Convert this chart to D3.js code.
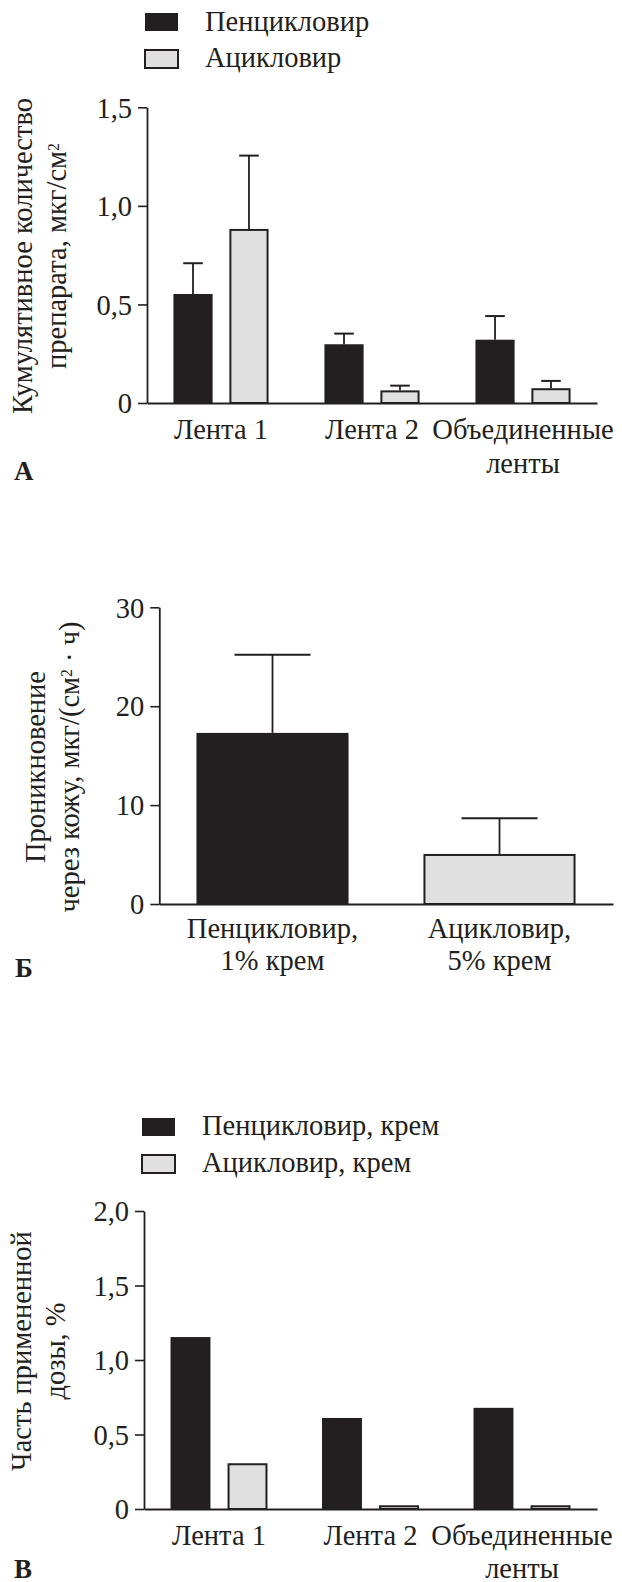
<!DOCTYPE html>
<html><head><meta charset="utf-8">
<script src="https://cdn.jsdelivr.net/npm/d3@7/dist/d3.min.js"></script>
<style>
html,body{margin:0;padding:0;background:#fff;}
svg{display:block;}
text{font-family:"Liberation Serif";}
</style></head>
<body>
<script>
// ---------- DATA ----------
const seriesA = ["Пенцикловир", "Ацикловир"];
const categoriesA = ["Лента 1", "Лента 2", "Объединенные\nленты"];
const pencA = [0.553, 0.298, 0.321];
const pencAErr = [0.156, 0.054, 0.120];
const acyA = [0.883, 0.064, 0.075];
const acyAErr = [0.372, 0.024, 0.037];
const ticksA = [0, 0.5, 1.0, 1.5];
const tickLabelsA = ["0", "0,5", "1,0", "1,5"];

const categoriesB = ["Пенцикловир,\n1% крем", "Ацикловир,\n5% крем"];
const valuesB = [17.3, 5.06];
const errB = [7.9, 3.6];
const ticksB = [0, 10, 20, 30];
const tickLabelsB = ["0", "10", "20", "30"];

const seriesC = ["Пенцикловир, крем", "Ацикловир, крем"];
const categoriesC = ["Лента 1", "Лента 2", "Объединенные\nленты"];
const pencC = [1.154, 0.611, 0.679];
const acyC = [0.307, 0.025, 0.025];
const ticksC = [0, 0.5, 1.0, 1.5, 2.0];
const tickLabelsC = ["0", "0,5", "1,0", "1,5", "2,0"];

// ---------- STYLE ----------
const INK = "#231f20";
const GRAY = "#dfe0df";
const FONT = "Liberation Serif";
const FS = 28.5;

const svg = d3.select("body").append("svg")
  .attr("width", 622).attr("height", 1582)
  .style("font-family", FONT);

function txt(sel) { return sel.style("font-family", FONT).attr("fill", INK); }

function legend(g, names, x, ys, textX, baselines) {
  names.forEach((n, i) => {
    g.append("rect").attr("x", x).attr("y", ys[i]).attr("width", 33).attr("height", 18)
      .attr("fill", i === 0 ? INK : GRAY)
      .attr("stroke", INK).attr("stroke-width", i === 0 ? 0 : 2);
    txt(g.append("text")).attr("x", textX).attr("y", baselines[i])
      .attr("font-size", FS).text(n);
  });
}

function yAxis(g, y, x, ticks, labels) {
  const ax = g.append("g").attr("transform", `translate(${x},0)`)
    .call(d3.axisLeft(y).tickValues(ticks).tickFormat((d, i) => labels[i])
      .tickSizeInner(9).tickSizeOuter(0).tickPadding(6));
  ax.attr("font-family", null);
  ax.select(".domain").attr("stroke", INK).attr("stroke-width", 1.8);
  ax.selectAll(".tick line").attr("stroke", INK).attr("stroke-width", 1.6);
  txt(ax.selectAll(".tick text")).attr("font-size", FS).attr("dy", "0.34em");
  return ax;
}

function xAxis(g, x, y0, pad, lh) {
  const ax = g.append("g").attr("transform", `translate(0,${y0})`)
    .call(d3.axisBottom(x).tickSizeInner(0).tickSizeOuter(0).tickPadding(pad));
  ax.attr("font-family", null);
  ax.select(".domain").attr("stroke", INK).attr("stroke-width", 1.8);
  ax.selectAll(".tick text").each(function (d) {
    const t = d3.select(this);
    txt(t.text(null)).attr("font-size", FS);
    d.split("\n").forEach((line, i) => {
      t.append("tspan").attr("x", 0).attr("dy", i === 0 ? "0.71em" : lh + "em").text(line);
    });
  });
  return ax;
}

function yTitle(g, lines, xs, yc) {
  lines.forEach((parts, i) => {
    const t = txt(g.append("text")).attr("transform", `translate(${xs[i]},${yc}) rotate(-90)`)
      .attr("text-anchor", "middle").attr("font-size", FS);
    parts.forEach(p => {
      if (p.sup) {
        t.append("tspan").attr("font-size", FS * 0.55).attr("baseline-shift", "45%").text(p.t);
      } else {
        t.append("tspan").text(p.t);
      }
    });
  });
}

function panelLabel(g, s, x, y) {
  txt(g.append("text")).attr("x", x).attr("y", y).attr("font-size", 27)
    .attr("font-weight", "bold").text(s);
}

function groupedBars(g, cats, series, values, errs, x0, x1, y, capFrac) {
  const data = cats.map((c, i) => ({ c, vals: series.map((s, j) => ({ s, j, v: values[j][i], e: errs ? errs[j][i] : null })) }));
  const grp = g.selectAll(".grp").data(data).join("g")
    .attr("transform", d => `translate(${x0(d.c)},0)`);
  grp.selectAll("rect").data(d => d.vals).join("rect")
    .attr("x", d => x1(d.s) + (d.j === 0 ? 0 : 1))
    .attr("width", d => x1.bandwidth() - (d.j === 0 ? 0 : 2))
    .attr("y", d => y(d.v) + (d.j === 0 ? 0 : 1))
    .attr("height", d => y(0) - y(d.v) - (d.j === 0 ? 0 : 1))
    .attr("fill", d => d.j === 0 ? INK : GRAY)
    .attr("stroke", INK).attr("stroke-width", d => d.j === 0 ? 0 : 2);
  if (errs) {
    grp.selectAll(".err").data(d => d.vals).join("g").attr("class", "err").each(function (d) {
      const e = d3.select(this);
      const cx = x1(d.s) + x1.bandwidth() / 2;
      const hw = x1.bandwidth() * capFrac / 2;
      e.append("line").attr("x1", cx).attr("x2", cx).attr("y1", y(d.v)).attr("y2", y(d.v + d.e))
        .attr("stroke", INK).attr("stroke-width", 1.8);
      e.append("line").attr("x1", cx - hw).attr("x2", cx + hw).attr("y1", y(d.v + d.e)).attr("y2", y(d.v + d.e))
        .attr("stroke", INK).attr("stroke-width", 2);
    });
  }
}

// ---------- PANEL A ----------
{
  const g = svg.append("g");
  legend(g, seriesA, 145, [13, 50], 205, [31, 67]);
  const y = d3.scaleLinear().domain([0, 1.5]).range([403, 107.3]);
  const x0 = d3.scaleBand().domain(categoriesA).range([147, 597]).paddingInner(0.37).paddingOuter(0.175);
  const x1 = d3.scaleBand().domain(seriesA).range([0, x0.bandwidth()]).paddingInner(0.3);
  groupedBars(g, categoriesA, seriesA, [pencA, acyA], [pencAErr, acyAErr], x0, x1, y, 0.5);
  yAxis(g, y, 147, ticksA, tickLabelsA);
  xAxis(g, x0, 403, 16, 1.19);
  yTitle(g, [[{ t: "Кумулятивное количество" }], [{ t: "препарата, мкг/см" }, { t: "2", sup: true }]], [32, 66], 256);
  panelLabel(g, "А", 14, 480);
}

// ---------- PANEL B ----------
{
  const g = svg.append("g");
  const y = d3.scaleLinear().domain([0, 30]).range([904, 607.3]);
  const x = d3.scaleBand().domain(categoriesB).range([159, 613]).paddingInner(0.33).paddingOuter(0.165);
  g.selectAll(".bar").data(categoriesB).join("rect")
    .attr("x", (d, i) => x(d) + (i === 0 ? 0 : 1))
    .attr("width", (d, i) => x.bandwidth() - (i === 0 ? 0 : 2))
    .attr("y", (d, i) => y(valuesB[i]) + (i === 0 ? 0 : 1))
    .attr("height", (d, i) => y(0) - y(valuesB[i]) - (i === 0 ? 0 : 1))
    .attr("fill", (d, i) => i === 0 ? INK : GRAY)
    .attr("stroke", INK).attr("stroke-width", (d, i) => i === 0 ? 0 : 2);
  categoriesB.forEach((c, i) => {
    const cx = x(c) + x.bandwidth() / 2, hw = x.bandwidth() / 4;
    g.append("line").attr("x1", cx).attr("x2", cx).attr("y1", y(valuesB[i])).attr("y2", y(valuesB[i] + errB[i]))
      .attr("stroke", INK).attr("stroke-width", 1.8);
    g.append("line").attr("x1", cx - hw).attr("x2", cx + hw).attr("y1", y(valuesB[i] + errB[i])).attr("y2", y(valuesB[i] + errB[i]))
      .attr("stroke", INK).attr("stroke-width", 2);
  });
  yAxis(g, y, 159.3, ticksB, tickLabelsB);
  xAxis(g, x, 904, 14, 1.12);
  yTitle(g, [[{ t: "Проникновение" }], [{ t: "через кожу, мкг/(см" }, { t: "2", sup: true }, { t: " · ч)" }]], [45, 79], 767);
  panelLabel(g, "Б", 15, 977);
}

// ---------- PANEL C ----------
{
  const g = svg.append("g");
  legend(g, seriesC, 142, [1118, 1155], 202, [1135, 1172]);
  const y = d3.scaleLinear().domain([0, 2]).range([1509, 1211]);
  const x0 = d3.scaleBand().domain(categoriesC).range([144, 597]).paddingInner(0.36).paddingOuter(0.175);
  const x1 = d3.scaleBand().domain(seriesC).range([0, x0.bandwidth()]).paddingInner(0.3);
  groupedBars(g, categoriesC, seriesC, [pencC, acyC], null, x0, x1, y, 0.5);
  yAxis(g, y, 144, ticksC, tickLabelsC);
  xAxis(g, x0, 1509, 16, 1.16);
  yTitle(g, [[{ t: "Часть примененной" }], [{ t: "дозы, %" }]], [31, 65], 1351);
  panelLabel(g, "В", 14, 1578);
}
</script>
</body></html>
